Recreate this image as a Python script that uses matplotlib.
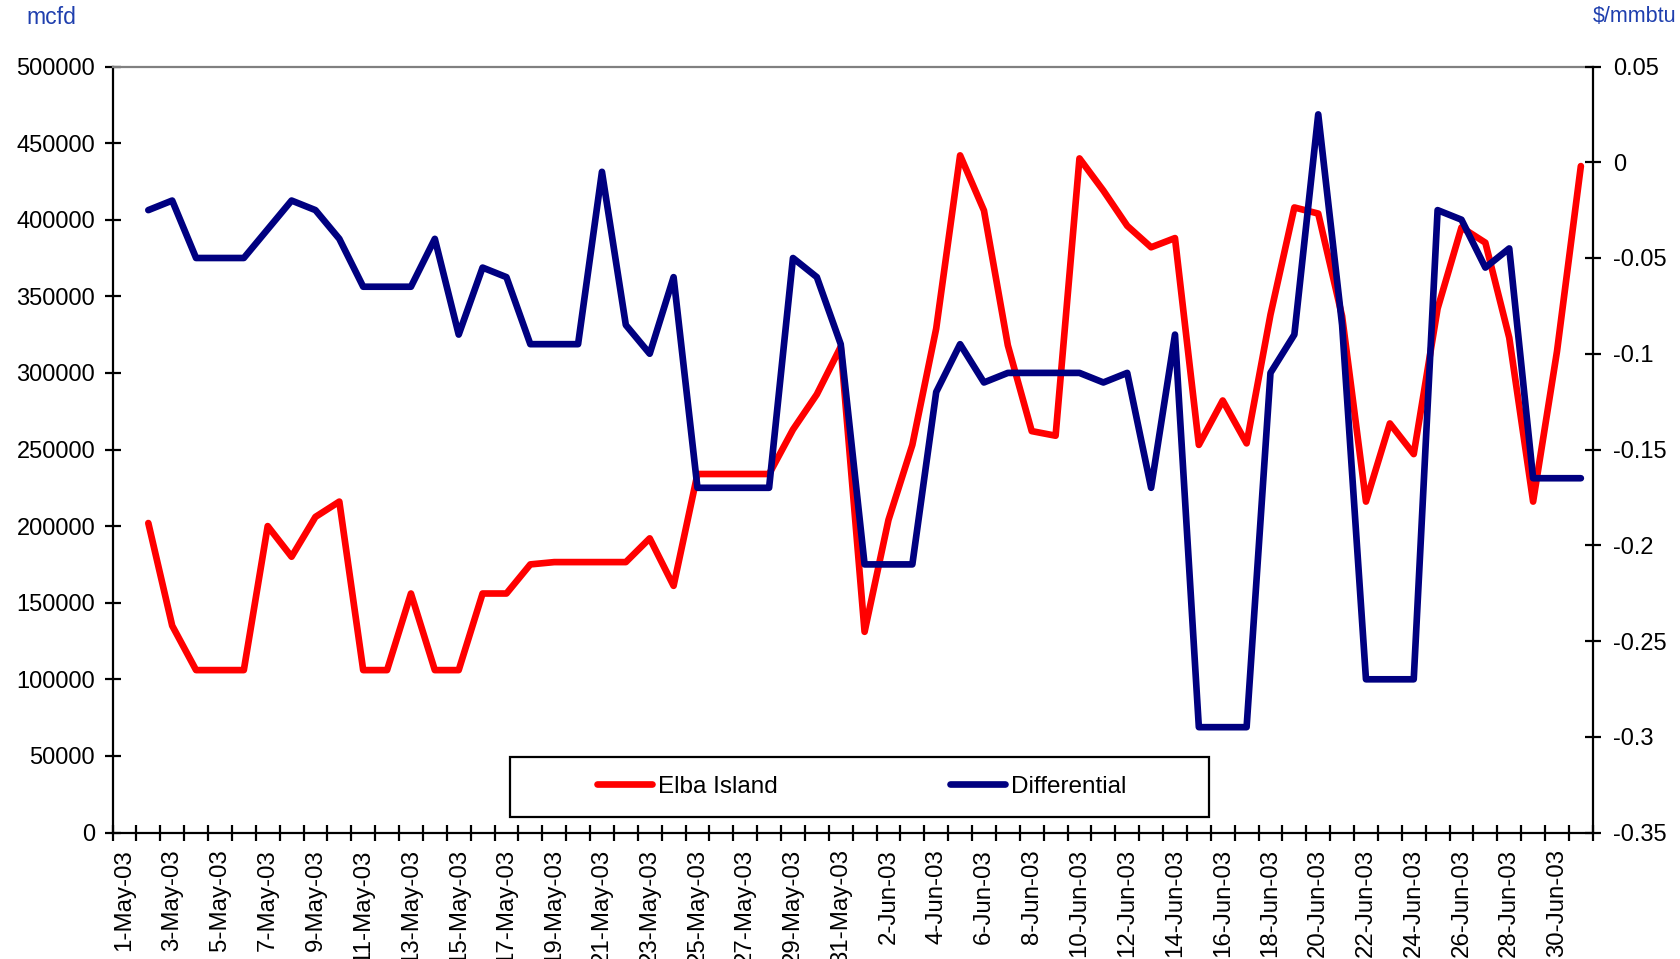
import numpy as np
import pandas as pd
import matplotlib
matplotlib.use('Agg')
import matplotlib.pyplot as plt
from matplotlib.patches import Rectangle
from matplotlib.ticker import FixedLocator, NullFormatter, FuncFormatter

plt.rcParams['font.family'] = ['Liberation Sans', 'DejaVu Sans']
plt.rcParams['axes.unicode_minus'] = False

# daily categories, 1-May-03 .. 1-Jul-03 (labels on every other day)
days = pd.date_range('2003-05-01', '2003-07-01', freq='D')
day_labels = [f"{d.day}-{d.strftime('%b-%y')}" for d in days]

# series start on 2-May
elba_island = [202000, 135000, 106000, 106000, 106000, 200000, 180000, 206000, 216000, 106000,
               106000, 156000, 106000, 106000, 156000, 156000, 175000, 176500, 176500, 176500,
               176500, 192000, 161000, 234000, 234000, 234000, 234000, 263000, 286000, 317000,
               131000, 204000, 253000, 329000, 442000, 406000, 318000, 262000, 259000, 440000,
               419000, 396000, 382000, 388000, 253000, 282000, 254000, 338000, 408000, 404000,
               337000, 216000, 267000, 247000, 342000, 395000, 385000, 323000, 216000, 314000,
               435000]

differential = [-0.025, -0.02, -0.05, -0.05, -0.05, -0.035, -0.02, -0.025, -0.04, -0.065,
                -0.065, -0.065, -0.04, -0.09, -0.055, -0.06, -0.095, -0.095, -0.095, -0.005,
                -0.085, -0.10, -0.06, -0.17, -0.17, -0.17, -0.17, -0.05, -0.06, -0.095,
                -0.21, -0.21, -0.21, -0.12, -0.095, -0.115, -0.11, -0.11, -0.11, -0.11,
                -0.115, -0.11, -0.17, -0.09, -0.295, -0.295, -0.295, -0.11, -0.09, 0.025,
                -0.085, -0.27, -0.27, -0.27, -0.025, -0.03, -0.055, -0.045, -0.165, -0.165,
                -0.165]

mcfd_ticks = list(range(0, 500001, 50000))
price_ticks = [0.05, 0, -0.05, -0.1, -0.15, -0.2, -0.25, -0.3, -0.35]

W, H = 1680, 959
fig = plt.figure(figsize=(W / 100, H / 100), dpi=100)
ax = fig.add_axes([112.5 / W, 1 - 832.5 / H, 1480.3 / W, 766 / H])
ax2 = ax.twinx()

x = np.arange(1, len(days)) + 0.5
l1, = ax.plot(x, elba_island, color='#FF0000', lw=4.8, solid_joinstyle='round',
              solid_capstyle='round', label='Elba Island')
l2, = ax2.plot(x, differential, color='#000080', lw=4.8, solid_joinstyle='round',
               solid_capstyle='round', label='Differential')

ax.set_xlim(0, len(days))
ax.set_ylim(0, 500000)
ax2.set_ylim(-0.35, 0.05)

# spines
for s in ['left', 'bottom']:
    ax.spines[s].set_color('black')
    ax.spines[s].set_linewidth(1.6)
ax.spines['top'].set_color('#808080')
ax.spines['top'].set_linewidth(1.6)
ax.spines['right'].set_visible(False)
for s in ['left', 'bottom', 'top']:
    ax2.spines[s].set_visible(False)
ax2.spines['right'].set_color('black')
ax2.spines['right'].set_linewidth(1.6)

# x axis: tick marks between days, labels centred on days
ax.xaxis.set_major_locator(FixedLocator(np.arange(len(days) + 1)))
ax.xaxis.set_major_formatter(NullFormatter())
ax.set_xticks(np.arange(0, len(days), 2) + 0.5, minor=True)
ax.set_xticklabels(day_labels[::2], minor=True, rotation=90, fontsize=17.3)
ax.tick_params(axis='x', which='major', direction='inout', length=12, width=1.6)
ax.tick_params(axis='x', which='minor', length=0, pad=12)

ax.set_yticks(mcfd_ticks)
ax.yaxis.set_major_formatter(FuncFormatter(lambda v, p: f"{int(round(v))}"))
ax.tick_params(axis='y', direction='inout', length=11, width=1.6, pad=7, labelsize=17)

ax2.set_yticks(price_ticks)
ax2.yaxis.set_major_formatter(FuncFormatter(lambda v, p: f"{round(v, 2):g}"))
ax2.tick_params(axis='y', direction='inout', length=11, width=1.6, pad=9, labelsize=17)

# unit labels
fig.text(26 / W, 1 - 17 / H, 'mcfd', color='#1f3fae', fontsize=16.5, ha='left', va='center')
fig.text(1593 / W, 1 - 17 / H, r'\$/mmbtu', color='#1f3fae', fontsize=15.5, ha='left', va='center')

# legend with its own box
box = Rectangle((510 / W, 1 - 816.7 / H), (1209 - 510) / W, 60 / H, transform=fig.transFigure,
                facecolor='white', edgecolor='black', lw=1.6, zorder=4)
fig.add_artist(box)
leg = fig.legend([l1, l2], ['Elba Island', 'Differential'], loc='center',
                 bbox_to_anchor=(862 / W, 1 - 786.7 / H), ncol=2, frameon=False, fontsize=17.5,
                 handlelength=2.26, handletextpad=0.25, columnspacing=7.1)
leg.set_zorder(6)

fig.savefig('out.png', dpi=100)
